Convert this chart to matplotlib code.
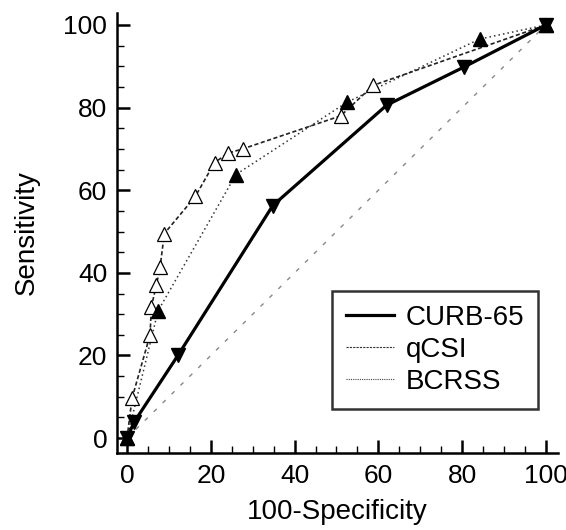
import matplotlib
matplotlib.use("Agg")
import matplotlib.pyplot as plt
from matplotlib.ticker import MultipleLocator
from matplotlib.lines import Line2D

plt.rcParams['font.family'] = ['Liberation Sans', 'DejaVu Sans']

curb_x = [0, 1.7, 12.2, 34.8, 62, 80.4, 100]
curb_y = [0, 3.9, 20.1, 56.3, 80.6, 89.8, 100]

qcsi_x = [0, 1.2, 5.5, 5.8, 7.0, 7.9, 8.9, 16.3, 20.9, 24.2, 27.6, 51.0, 58.8, 100]
qcsi_y = [0, 9.7, 25.0, 31.8, 37.0, 41.5, 49.5, 58.5, 66.7, 69.0, 70.0, 78.0, 85.4, 100]

bcrss_x = [0, 7.4, 26.0, 52.5, 84.2, 100]
bcrss_y = [0, 30.8, 63.8, 81.3, 96.6, 100]

ref_x = [0, 100]
ref_y = [0, 100]

xticks = [0, 20, 40, 60, 80, 100]
yticks = [0, 20, 40, 60, 80, 100]

fig = plt.figure(figsize=(5.66, 5.30), dpi=100)
ax = fig.add_axes([0.2067, 0.1453, 0.7793, 0.8302])

ax.plot(ref_x, ref_y, color='#888888', lw=1.0, dashes=(3, 6), zorder=1)
ax.plot(bcrss_x, bcrss_y, color='#333333', lw=1.1, linestyle=(0, (1, 2)), zorder=2)
ax.plot(qcsi_x, qcsi_y, color='#222222', lw=1.2, linestyle=(0, (2.5, 1.5)), zorder=2)
ax.plot(curb_x, curb_y, color='black', lw=2.3, zorder=3)

ax.plot(qcsi_x, qcsi_y, linestyle='none', marker='^', ms=9.5, mfc='white', mec='black',
        mew=0.9, zorder=4)
ax.plot(bcrss_x, bcrss_y, linestyle='none', marker='^', ms=9.5, mfc='black', mec='black',
        zorder=5)
ax.plot(curb_x, curb_y, linestyle='none', marker='v', ms=9.5, mfc='black', mec='black',
        zorder=6)

ax.set_xlim(-2.4, 102.9)
ax.set_ylim(-3.6, 102.9)
ax.set_xticks(xticks)
ax.set_yticks(yticks)
ax.set_xticklabels([str(t) for t in xticks])
ax.set_yticklabels([str(t) for t in yticks])
ax.xaxis.set_minor_locator(MultipleLocator(5))
ax.yaxis.set_minor_locator(MultipleLocator(5))
ax.tick_params(which='major', direction='in', length=9.5, width=1.8, labelsize=19)
ax.tick_params(axis='x', which='major', pad=8)
ax.tick_params(axis='y', which='major', pad=7)
ax.tick_params(which='minor', direction='in', length=5, width=1.0)

for s in ['top', 'right']:
    ax.spines[s].set_visible(False)
for s in ['left', 'bottom']:
    ax.spines[s].set_linewidth(1.8)

ax.set_xlabel('100-Specificity', fontsize=20, labelpad=8)
ax.set_ylabel('Sensitivity', fontsize=20, labelpad=17)

handles = [Line2D([], [], color='black', lw=2.3),
           Line2D([], [], color='#333333', lw=0.8, linestyle=(0, (2, 1))),
           Line2D([], [], color='#444444', lw=0.8, linestyle=(0, (1, 1)))]
leg = ax.legend(handles, ['CURB-65', 'qCSI', 'BCRSS'], loc='upper left',
                bbox_to_anchor=(332 / 566, (530 - 291) / 530), bbox_transform=fig.transFigure,
                fontsize=20, frameon=True, fancybox=False, handlelength=1.75,
                handletextpad=0.4, labelspacing=0.22, borderpad=0.5, borderaxespad=0)
leg.get_frame().set_edgecolor('black')
leg.get_frame().set_linewidth(1.8)

fig.savefig('out.png', dpi=100)
